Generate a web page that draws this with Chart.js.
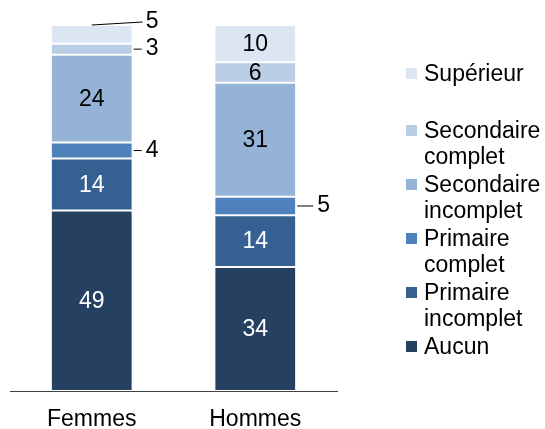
<!DOCTYPE html>
<html>
<head>
<meta charset="utf-8">
<script src="https://cdn.jsdelivr.net/npm/chart.js@4.4.0/dist/chart.umd.min.js"></script>
<style>
  body { margin: 0; background: #fff; }
  #wrap { position: relative; width: 545px; height: 429px; }
  #legend { position: absolute; left: 406px; top: 60px; font-family: "Liberation Sans", Arial, sans-serif; font-size: 23px; line-height: 26px; color: #000; }
  .item { position: relative; padding-left: 18px; margin-bottom: 2px; }
  .item .box { position: absolute; left: 0; top: 8px; width: 11px; height: 11px; }
</style>
</head>
<body>
<div id="wrap">
  <canvas id="chart" width="545" height="429"></canvas>
  <div id="legend"></div>
</div>
<script>
// categories and series (bottom to top of the stack)
const categories = ['Femmes', 'Hommes'];
const seriesNames = ['Aucun', 'Primaire incomplet', 'Primaire complet', 'Secondaire incomplet', 'Secondaire complet', 'Supérieur'];
const legendLabels = [['Aucun'], ['Primaire', 'incomplet'], ['Primaire', 'complet'], ['Secondaire', 'incomplet'], ['Secondaire', 'complet'], ['Supérieur']];
const aucun = [49.3, 33.9];
const primaireIncomplet = [14.2, 14.1];
const primaireComplet = [4.4, 5.1];
const secondaireIncomplet = [24.0, 31.1];
const secondaireComplet = [3.0, 5.6];
const superieur = [5.1, 10.2];

const colors = ['#254061', '#376092', '#4f81bd', '#95b3d7', '#b9cde5', '#dce6f2'];
const labelColors = ['#fff', '#fff', '#fff', '#000', '#000', '#000'];
const allSeries = [aucun, primaireIncomplet, primaireComplet, secondaireIncomplet, secondaireComplet, superieur];

const FONT = '"Liberation Sans", Arial, sans-serif';

// labels inside the segments, small ones outside with a leader line
const segmentLabels = {
  id: 'segmentLabels',
  afterDatasetsDraw(chart) {
    const ctx = chart.ctx;
    const leader = [9, 17];
    ctx.save();
    ctx.font = '23px ' + FONT;
    ctx.textBaseline = 'middle';
    chart.data.datasets.forEach((ds, di) => {
      const meta = chart.getDatasetMeta(di);
      meta.data.forEach((bar, i) => {
        const v = ds.data[i];
        const txt = String(Math.round(v));
        const right = bar.x + bar.width / 2;
        const mid = (bar.y + bar.base) / 2;
        if (v >= 5.5) {
          ctx.fillStyle = labelColors[di];
          ctx.textAlign = 'center';
          ctx.fillText(txt, bar.x, mid + 1);
          return;
        }
        ctx.strokeStyle = '#000';
        ctx.lineWidth = 1;
        ctx.fillStyle = '#000';
        ctx.textAlign = 'left';
        ctx.beginPath();
        if (di === chart.data.datasets.length - 1) {
          // top segment: slanted line from the bar top
          ctx.moveTo(bar.x, bar.y);
          ctx.lineTo(right + 10, bar.y - 3);
          ctx.stroke();
          ctx.fillText(txt, right + 13, bar.y - 3);
        } else {
          ctx.moveTo(right + 1, mid);
          ctx.lineTo(right + leader[i], mid);
          ctx.stroke();
          ctx.fillText(txt, right + leader[i] + 4, mid);
        }
      });
    });
    ctx.restore();
  }
};

new Chart(document.getElementById('chart'), {
  type: 'bar',
  data: {
    labels: categories,
    datasets: seriesNames.map((name, i) => ({
      label: name,
      data: allSeries[i],
      backgroundColor: colors[i],
      borderColor: '#fff',
      borderWidth: 1,
      borderSkipped: false,
      barPercentage: 0.5,
      categoryPercentage: 1
    }))
  },
  options: {
    responsive: false,
    animation: false,
    layout: { padding: { left: 10, right: 208, top: 25, bottom: 0 } },
    plugins: { legend: { display: false }, tooltip: { enabled: false } },
    scales: {
      x: {
        stacked: true,
        grid: { display: false, drawTicks: false },
        border: { display: true, color: '#404040', width: 1 },
        ticks: { color: '#000', padding: 17, font: { family: FONT, size: 23, lineHeight: 1 } },
        afterFit: (scale) => { scale.height = 38; }
      },
      y: { stacked: true, display: false, min: 0, max: 100 }
    }
  },
  plugins: [segmentLabels]
});

// legend, top item first
const legend = document.getElementById('legend');
for (let i = seriesNames.length - 1; i >= 0; i--) {
  const item = document.createElement('div');
  item.className = 'item';
  if (i === seriesNames.length - 1) item.style.marginBottom = '31px';
  item.innerHTML = '<span class="box" style="background:' + colors[i] + '"></span>' + legendLabels[i].join('<br>');
  legend.appendChild(item);
}
</script>
</body>
</html>
